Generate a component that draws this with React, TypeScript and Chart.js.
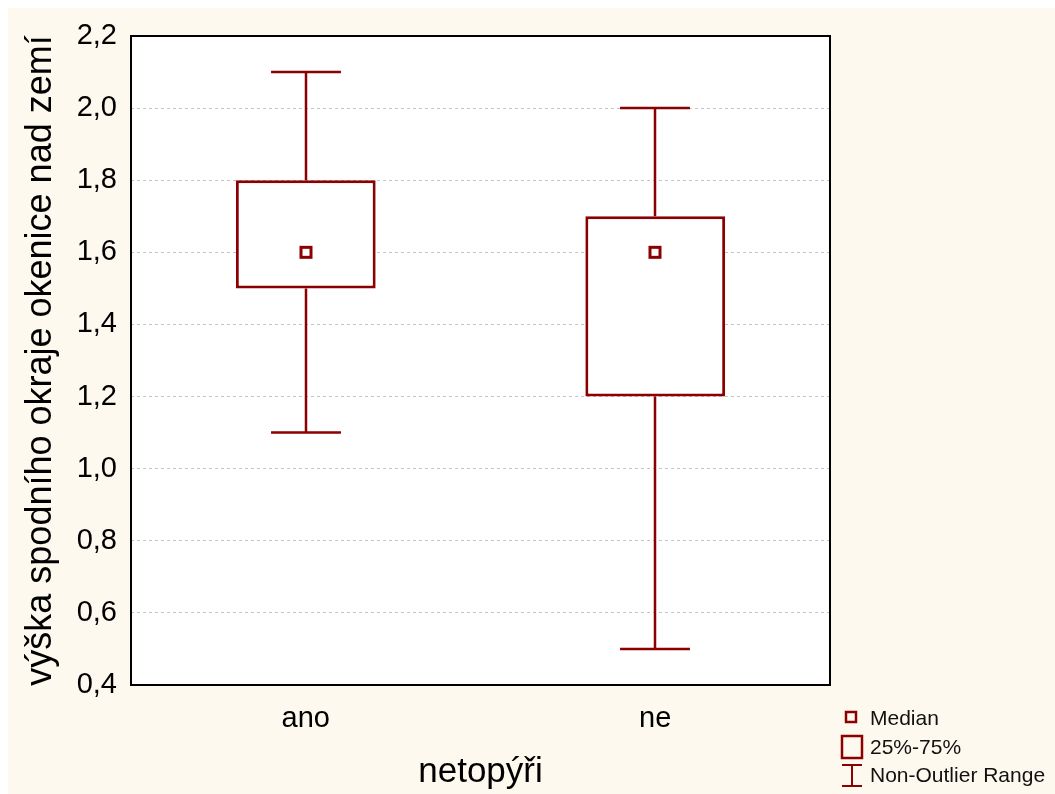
import React, { useEffect, useRef } from "react";
import { Chart, registerables } from "chart.js";

Chart.register(...registerables);

const categories = ["ano", "ne"];
const minValues = [1.1, 0.5];
const q1Values = [1.5, 1.2];
const medianValues = [1.6, 1.6];
const q3Values = [1.8, 1.7];
const maxValues = [2.1, 2.0];
const legendLabels = ["Median", "25%-75%", "Non-Outlier Range"];
const yTitle = "výška spodního okraje okenice nad zemí";
const xTitle = "netopýři";

const RED = "#8b0000";
const FONT = "'Liberation Sans', Arial, sans-serif";

const boxPlugin = {
  id: "boxExtras",
  beforeDraw(chart: any) {
    const { ctx, chartArea: a, width, height } = chart;
    ctx.save();
    ctx.fillStyle = "#fef9ee";
    ctx.fillRect(0, 0, width, height);
    ctx.fillStyle = "#ffffff";
    ctx.fillRect(a.left, a.top, a.right - a.left, a.bottom - a.top);
    ctx.restore();
  },
  afterDatasetsDraw(chart: any) {
    const { ctx, scales } = chart;
    const x = scales.x;
    const y = scales.y;
    const capHalf = (x.width / categories.length) * 0.1;
    ctx.save();
    ctx.strokeStyle = RED;
    categories.forEach((_, i) => {
      const cx = Math.round(x.getPixelForValue(i));
      const yMin = y.getPixelForValue(minValues[i]);
      const yQ1 = y.getPixelForValue(q1Values[i]);
      const yQ3 = y.getPixelForValue(q3Values[i]);
      const yMax = y.getPixelForValue(maxValues[i]);
      const yMed = y.getPixelForValue(medianValues[i]);
      ctx.lineWidth = 2.5;
      ctx.beginPath();
      ctx.moveTo(cx, yQ3);
      ctx.lineTo(cx, yMax);
      ctx.moveTo(cx - capHalf, yMax);
      ctx.lineTo(cx + capHalf, yMax);
      ctx.moveTo(cx, yQ1);
      ctx.lineTo(cx, yMin);
      ctx.moveTo(cx - capHalf, yMin);
      ctx.lineTo(cx + capHalf, yMin);
      ctx.stroke();
      ctx.lineWidth = 3;
      ctx.strokeRect(cx - 5, yMed - 5, 10, 10);
    });
    ctx.restore();
  },
  afterDraw(chart: any) {
    const { ctx, chartArea: a } = chart;
    ctx.save();
    ctx.strokeStyle = "#000";
    ctx.lineWidth = 2;
    ctx.strokeRect(a.left, a.top, a.right - a.left, a.bottom - a.top);

    // legend
    ctx.strokeStyle = RED;
    const lx = a.right + 12;
    ctx.lineWidth = 2.5;
    ctx.strokeRect(lx + 4, 704, 10, 10);
    ctx.strokeRect(lx, 728, 20, 22);
    ctx.lineWidth = 2;
    ctx.beginPath();
    ctx.moveTo(lx + 10, 756);
    ctx.lineTo(lx + 10, 778);
    ctx.moveTo(lx, 757);
    ctx.lineTo(lx + 20, 757);
    ctx.moveTo(lx, 778);
    ctx.lineTo(lx + 20, 778);
    ctx.stroke();
    ctx.fillStyle = "#111";
    ctx.font = `21px ${FONT}`;
    ctx.textBaseline = "middle";
    ctx.textAlign = "left";
    const tx = lx + 28;
    ctx.fillText(legendLabels[0], tx, 711);
    ctx.fillText(legendLabels[1], tx, 740);
    ctx.fillText(legendLabels[2], tx, 768);
    ctx.restore();
  },
};

export default function App() {
  const ref = useRef<HTMLCanvasElement | null>(null);
  useEffect(() => {
    document.body.style.margin = "0";
    document.body.style.overflow = "hidden";
    const chart = new Chart(ref.current as HTMLCanvasElement, {
      type: "bar",
      data: {
        labels: categories,
        datasets: [
          {
            data: categories.map((_, i) => [q1Values[i], q3Values[i]]) as any,
            backgroundColor: "#ffffff",
            borderColor: RED,
            borderWidth: 3,
            borderSkipped: false,
            barPercentage: 0.4,
            categoryPercentage: 1,
          },
        ],
      },
      options: {
        animation: false,
        responsive: false,
        events: [],
        layout: { padding: { top: 28, right: 225, left: 0, bottom: 0 } },
        plugins: { legend: { display: false }, tooltip: { enabled: false } },
        scales: {
          x: {
            grid: { display: false, drawTicks: false },
            border: { display: false },
            ticks: { color: "#000", font: { family: FONT, size: 29 }, padding: 17 },
            title: {
              display: true,
              text: xTitle,
              color: "#000",
              font: { family: FONT, size: 35 },
              padding: { top: 1, bottom: 1 },
            },
            afterFit: (s: any) => {
              s.height = 109;
              s.paddingLeft = 0;
              s.paddingRight = 0;
            },
          },
          y: {
            min: 0.4,
            max: 2.2,
            grid: { color: "#c4c4c4", lineWidth: 1, drawTicks: false },
            border: { display: false, dash: [3, 3] },
            ticks: {
              stepSize: 0.2,
              color: "#000",
              padding: 14,
              font: { family: FONT, size: 29 },
              callback: (v: any) => Number(v).toFixed(1).replace(".", ","),
            },
            title: {
              display: true,
              text: yTitle,
              color: "#000",
              font: { family: FONT, size: 36 },
              padding: { top: 11, bottom: 11 },
            },
            afterFit: (s: any) => {
              s.width = 123;
              s.paddingTop = 0;
              s.paddingBottom = 0;
            },
          },
        },
      },
      plugins: [boxPlugin],
    });
    return () => chart.destroy();
  }, []);
  return (
    <div style={{ paddingLeft: 8, paddingTop: 8, background: "#fff" }}>
      <canvas ref={ref} width={1047} height={786} style={{ display: "block" }} />
    </div>
  );
}
